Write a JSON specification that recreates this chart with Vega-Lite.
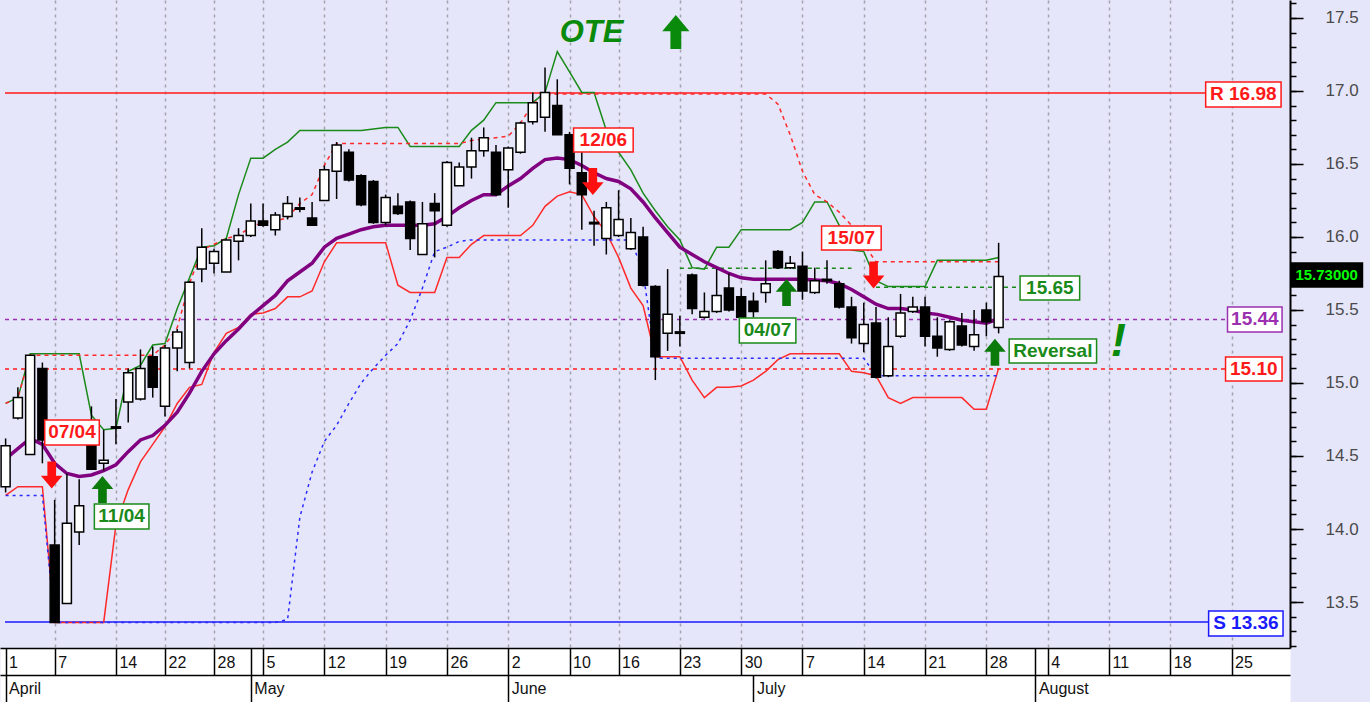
{
"$schema":"https://vega.github.io/schema/vega-lite/v6.json",
"width":1290,"height":648,
"autosize":"none",
"padding":{"left":0,"top":0,"right":80,"bottom":54},
"background":"#E6E6FA",
"config":{"view":{"stroke":null},"font":"Liberation Sans"},
"resolve":{"axis":{"x":"independent","y":"independent"}},
"datasets":{
"ohlc":[
{"i":0,"o":14.29,"h":14.62,"l":14.25,"c":14.57,"ma":14.48,"up":14.86,"lo":14.23,"tr":14.86,"bl":14.23},
{"i":1,"o":14.76,"h":14.97,"l":14.75,"c":14.90,"ma":14.55,"up":14.90,"lo":14.29,"tr":14.90,"bl":14.23},
{"i":2,"o":14.51,"h":15.19,"l":14.51,"c":15.19,"ma":14.62,"up":15.20,"lo":14.29,"tr":15.19,"bl":14.23},
{"i":3,"o":15.10,"h":15.14,"l":14.45,"c":14.61,"ma":14.58,"up":15.20,"lo":14.29,"tr":15.19,"bl":14.23},
{"i":4,"o":13.89,"h":14.20,"l":13.36,"c":13.36,"ma":14.45,"up":15.20,"lo":13.36,"tr":15.19,"bl":13.36},
{"i":5,"o":13.49,"h":14.38,"l":13.49,"c":14.04,"ma":14.38,"up":15.20,"lo":13.36,"tr":15.19,"bl":13.36},
{"i":6,"o":13.98,"h":14.34,"l":13.89,"c":14.16,"ma":14.36,"up":15.20,"lo":13.36,"tr":15.19,"bl":13.36},
{"i":7,"o":14.59,"h":14.84,"l":14.41,"c":14.41,"ma":14.37,"up":14.78,"lo":13.36,"tr":15.19,"bl":13.36},
{"i":8,"o":14.45,"h":14.68,"l":14.40,"c":14.47,"ma":14.40,"up":14.68,"lo":13.36,"tr":15.19,"bl":13.36},
{"i":9,"o":14.70,"h":14.89,"l":14.58,"c":14.69,"ma":14.44,"up":14.69,"lo":14.03,"tr":15.19,"bl":13.36},
{"i":10,"o":14.87,"h":15.10,"l":14.73,"c":15.07,"ma":14.53,"up":15.08,"lo":14.27,"tr":15.19,"bl":13.36},
{"i":11,"o":14.89,"h":15.23,"l":14.88,"c":15.10,"ma":14.61,"up":15.12,"lo":14.46,"tr":15.19,"bl":13.36},
{"i":12,"o":15.18,"h":15.25,"l":14.90,"c":14.97,"ma":14.64,"up":15.26,"lo":14.58,"tr":15.19,"bl":13.36},
{"i":13,"o":14.84,"h":15.26,"l":14.77,"c":15.24,"ma":14.71,"up":15.27,"lo":14.70,"tr":15.26,"bl":13.36},
{"i":14,"o":15.24,"h":15.37,"l":15.08,"c":15.35,"ma":14.80,"up":15.51,"lo":14.86,"tr":15.38,"bl":13.36},
{"i":15,"o":15.14,"h":15.70,"l":15.10,"c":15.69,"ma":14.93,"up":15.72,"lo":14.97,"tr":15.68,"bl":13.36},
{"i":16,"o":15.78,"h":16.06,"l":15.69,"c":15.93,"ma":15.08,"up":15.93,"lo":14.99,"tr":15.91,"bl":13.36},
{"i":17,"o":15.82,"h":15.92,"l":15.75,"c":15.90,"ma":15.20,"up":15.94,"lo":15.21,"tr":15.95,"bl":13.36},
{"i":18,"o":15.76,"h":15.99,"l":15.76,"c":15.98,"ma":15.29,"up":15.99,"lo":15.34,"tr":15.99,"bl":13.36},
{"i":19,"o":15.97,"h":16.06,"l":15.84,"c":16.01,"ma":15.37,"up":16.29,"lo":15.38,"tr":16.01,"bl":13.36},
{"i":20,"o":16.01,"h":16.23,"l":16.00,"c":16.11,"ma":15.46,"up":16.54,"lo":15.47,"tr":16.07,"bl":13.36},
{"i":21,"o":16.11,"h":16.23,"l":16.07,"c":16.08,"ma":15.53,"up":16.54,"lo":15.48,"tr":16.10,"bl":13.36},
{"i":22,"o":16.05,"h":16.17,"l":16.01,"c":16.15,"ma":15.60,"up":16.60,"lo":15.51,"tr":16.11,"bl":13.36},
{"i":23,"o":16.14,"h":16.28,"l":16.12,"c":16.23,"ma":15.70,"up":16.65,"lo":15.59,"tr":16.13,"bl":13.38},
{"i":24,"o":16.20,"h":16.27,"l":16.17,"c":16.19,"ma":15.76,"up":16.73,"lo":15.59,"tr":16.23,"bl":14.08},
{"i":25,"o":16.13,"h":16.24,"l":16.08,"c":16.08,"ma":15.82,"up":16.73,"lo":15.63,"tr":16.29,"bl":14.39},
{"i":26,"o":16.25,"h":16.49,"l":16.25,"c":16.46,"ma":15.93,"up":16.73,"lo":15.83,"tr":16.49,"bl":14.60},
{"i":27,"o":16.45,"h":16.65,"l":16.26,"c":16.63,"ma":15.99,"up":16.73,"lo":15.96,"tr":16.64,"bl":14.71},
{"i":28,"o":16.58,"h":16.60,"l":16.38,"c":16.39,"ma":16.02,"up":16.73,"lo":15.96,"tr":16.64,"bl":14.86},
{"i":29,"o":16.42,"h":16.43,"l":16.21,"c":16.22,"ma":16.05,"up":16.73,"lo":15.96,"tr":16.64,"bl":15.00},
{"i":30,"o":16.38,"h":16.39,"l":16.09,"c":16.10,"ma":16.07,"up":16.74,"lo":15.96,"tr":16.64,"bl":15.10},
{"i":31,"o":16.10,"h":16.29,"l":16.08,"c":16.27,"ma":16.08,"up":16.75,"lo":15.96,"tr":16.64,"bl":15.19},
{"i":32,"o":16.21,"h":16.30,"l":16.15,"c":16.16,"ma":16.08,"up":16.75,"lo":15.67,"tr":16.64,"bl":15.27},
{"i":33,"o":16.24,"h":16.25,"l":15.91,"c":15.99,"ma":16.08,"up":16.62,"lo":15.62,"tr":16.64,"bl":15.43},
{"i":34,"o":15.88,"h":16.24,"l":15.88,"c":16.09,"ma":16.08,"up":16.62,"lo":15.62,"tr":16.64,"bl":15.65},
{"i":35,"o":16.23,"h":16.30,"l":15.86,"c":16.18,"ma":16.09,"up":16.62,"lo":15.62,"tr":16.64,"bl":15.90},
{"i":36,"o":16.08,"h":16.52,"l":16.07,"c":16.51,"ma":16.14,"up":16.62,"lo":15.86,"tr":16.64,"bl":15.93},
{"i":37,"o":16.35,"h":16.51,"l":16.35,"c":16.48,"ma":16.20,"up":16.62,"lo":15.86,"tr":16.64,"bl":15.97},
{"i":38,"o":16.48,"h":16.68,"l":16.40,"c":16.59,"ma":16.25,"up":16.73,"lo":15.95,"tr":16.66,"bl":15.98},
{"i":39,"o":16.59,"h":16.75,"l":16.55,"c":16.68,"ma":16.29,"up":16.80,"lo":16.01,"tr":16.67,"bl":15.98},
{"i":40,"o":16.58,"h":16.63,"l":16.28,"c":16.29,"ma":16.29,"up":16.92,"lo":16.01,"tr":16.68,"bl":15.98},
{"i":41,"o":16.46,"h":16.62,"l":16.20,"c":16.61,"ma":16.35,"up":16.92,"lo":16.01,"tr":16.69,"bl":15.98},
{"i":42,"o":16.58,"h":16.79,"l":16.57,"c":16.78,"ma":16.40,"up":16.92,"lo":16.01,"tr":16.78,"bl":15.98},
{"i":43,"o":16.79,"h":16.99,"l":16.77,"c":16.92,"ma":16.47,"up":16.92,"lo":16.08,"tr":16.91,"bl":15.98},
{"i":44,"o":16.82,"h":17.16,"l":16.72,"c":16.99,"ma":16.53,"up":16.99,"lo":16.21,"tr":16.97,"bl":15.98},
{"i":45,"o":16.90,"h":17.08,"l":16.70,"c":16.70,"ma":16.54,"up":17.27,"lo":16.28,"tr":16.98,"bl":15.98},
{"i":46,"o":16.70,"h":16.72,"l":16.36,"c":16.47,"ma":16.53,"up":17.13,"lo":16.31,"tr":16.98,"bl":15.98},
{"i":47,"o":16.44,"h":16.58,"l":16.05,"c":16.29,"ma":16.49,"up":16.99,"lo":16.29,"tr":16.98,"bl":15.98},
{"i":48,"o":16.10,"h":16.18,"l":15.94,"c":16.09,"ma":16.44,"up":16.99,"lo":16.14,"tr":16.98,"bl":15.98},
{"i":49,"o":15.99,"h":16.24,"l":15.88,"c":16.20,"ma":16.40,"up":16.73,"lo":16.03,"tr":16.98,"bl":15.98},
{"i":50,"o":16.01,"h":16.32,"l":16.00,"c":16.12,"ma":16.38,"up":16.58,"lo":15.86,"tr":16.98,"bl":15.98},
{"i":51,"o":15.92,"h":16.13,"l":15.91,"c":16.03,"ma":16.33,"up":16.46,"lo":15.65,"tr":16.98,"bl":15.98},
{"i":52,"o":16.00,"h":16.07,"l":15.66,"c":15.67,"ma":16.24,"up":16.30,"lo":15.53,"tr":16.98,"bl":15.76},
{"i":53,"o":15.66,"h":15.67,"l":15.02,"c":15.18,"ma":16.13,"up":16.18,"lo":15.18,"tr":16.98,"bl":15.17},
{"i":54,"o":15.34,"h":15.78,"l":15.22,"c":15.47,"ma":16.03,"up":16.07,"lo":15.18,"tr":16.98,"bl":15.17},
{"i":55,"o":15.35,"h":15.46,"l":15.25,"c":15.34,"ma":15.93,"up":15.98,"lo":15.18,"tr":16.98,"bl":15.17},
{"i":56,"o":15.74,"h":15.75,"l":15.47,"c":15.51,"ma":15.88,"up":15.79,"lo":15.02,"tr":16.98,"bl":15.17},
{"i":57,"o":15.45,"h":15.62,"l":15.44,"c":15.49,"ma":15.83,"up":15.78,"lo":14.90,"tr":16.98,"bl":15.17},
{"i":58,"o":15.49,"h":15.78,"l":15.48,"c":15.60,"ma":15.79,"up":15.93,"lo":14.97,"tr":16.98,"bl":15.17},
{"i":59,"o":15.65,"h":15.75,"l":15.49,"c":15.50,"ma":15.75,"up":15.93,"lo":14.97,"tr":16.98,"bl":15.17},
{"i":60,"o":15.59,"h":15.65,"l":15.44,"c":15.45,"ma":15.72,"up":16.05,"lo":14.98,"tr":16.98,"bl":15.17},
{"i":61,"o":15.56,"h":15.62,"l":15.45,"c":15.49,"ma":15.71,"up":16.05,"lo":15.02,"tr":16.98,"bl":15.17},
{"i":62,"o":15.62,"h":15.84,"l":15.55,"c":15.68,"ma":15.71,"up":16.05,"lo":15.08,"tr":16.98,"bl":15.17},
{"i":63,"o":15.90,"h":15.91,"l":15.78,"c":15.79,"ma":15.71,"up":16.05,"lo":15.16,"tr":16.91,"bl":15.17},
{"i":64,"o":15.79,"h":15.87,"l":15.78,"c":15.82,"ma":15.71,"up":16.05,"lo":15.20,"tr":16.70,"bl":15.17},
{"i":65,"o":15.80,"h":15.90,"l":15.57,"c":15.63,"ma":15.71,"up":16.10,"lo":15.20,"tr":16.45,"bl":15.17},
{"i":66,"o":15.62,"h":15.79,"l":15.61,"c":15.70,"ma":15.705,"up":16.24,"lo":15.20,"tr":16.29,"bl":15.17},
{"i":67,"o":15.70,"h":15.84,"l":15.68,"c":15.71,"ma":15.70,"up":16.24,"lo":15.20,"tr":16.24,"bl":15.17},
{"i":68,"o":15.68,"h":15.70,"l":15.51,"c":15.52,"ma":15.68,"up":16.08,"lo":15.20,"tr":16.17,"bl":15.17},
{"i":69,"o":15.52,"h":15.59,"l":15.27,"c":15.31,"ma":15.64,"up":15.91,"lo":15.08,"tr":16.08,"bl":15.17},
{"i":70,"o":15.27,"h":15.55,"l":15.21,"c":15.40,"ma":15.59,"up":15.90,"lo":15.07,"tr":15.95,"bl":15.17},
{"i":71,"o":15.41,"h":15.52,"l":15.03,"c":15.04,"ma":15.54,"up":15.70,"lo":15.05,"tr":15.83,"bl":15.05},
{"i":72,"o":15.05,"h":15.45,"l":15.04,"c":15.25,"ma":15.51,"up":15.66,"lo":14.90,"tr":15.83,"bl":15.05},
{"i":73,"o":15.32,"h":15.61,"l":15.31,"c":15.48,"ma":15.51,"up":15.66,"lo":14.86,"tr":15.83,"bl":15.05},
{"i":74,"o":15.49,"h":15.59,"l":15.48,"c":15.52,"ma":15.50,"up":15.66,"lo":14.90,"tr":15.83,"bl":15.05},
{"i":75,"o":15.52,"h":15.59,"l":15.25,"c":15.32,"ma":15.48,"up":15.66,"lo":14.90,"tr":15.83,"bl":15.05},
{"i":76,"o":15.32,"h":15.45,"l":15.18,"c":15.24,"ma":15.47,"up":15.84,"lo":14.90,"tr":15.83,"bl":15.05},
{"i":77,"o":15.23,"h":15.43,"l":15.22,"c":15.42,"ma":15.45,"up":15.84,"lo":14.90,"tr":15.83,"bl":15.05},
{"i":78,"o":15.39,"h":15.48,"l":15.25,"c":15.26,"ma":15.43,"up":15.84,"lo":14.90,"tr":15.83,"bl":15.05},
{"i":79,"o":15.25,"h":15.50,"l":15.22,"c":15.33,"ma":15.42,"up":15.84,"lo":14.82,"tr":15.83,"bl":15.05},
{"i":80,"o":15.50,"h":15.55,"l":15.32,"c":15.42,"ma":15.41,"up":15.84,"lo":14.82,"tr":15.83,"bl":15.05},
{"i":81,"o":15.38,"h":15.96,"l":15.34,"c":15.73,"ma":15.44,"up":15.86,"lo":15.10,"tr":15.83,"bl":15.05}
],
"levels":[
{"name":"R","v":16.986,"from":-0.05,"to":97.89,"grp":"sell"},
{"name":"S","v":13.363,"from":-0.05,"to":98.13,"grp":"support"},
{"name":"pivot","v":15.435,"from":-0.05,"to":99.67,"grp":"pivot"},
{"name":"trigger","v":15.096,"from":-0.05,"to":99.51,"grp":"sell"},
{"name":"res1","v":15.785,"from":55,"to":69,"grp":"buy"},
{"name":"res2","v":15.655,"from":71,"to":82.75,"grp":"buy"}
],
"ann":[
{"text":"07/04","grp":"sell","x":5.41,"y":14.661,"x1":3.19,"x2":7.64,"y1":14.575,"y2":14.747},
{"text":"11/04","grp":"buy","x":9.46,"y":14.086,"x1":7.24,"x2":11.69,"y1":14.0,"y2":14.171},
{"text":"12/06","grp":"sell","x":48.76,"y":16.664,"x1":46.33,"x2":51.19,"y1":16.582,"y2":16.747},
{"text":"04/07","grp":"buy","x":62.15,"y":15.36,"x1":59.85,"x2":64.46,"y1":15.274,"y2":15.445},
{"text":"15/07","grp":"sell","x":68.99,"y":15.993,"x1":66.56,"x2":71.42,"y1":15.911,"y2":16.075},
{"text":"Reversal","grp":"buy","x":85.42,"y":15.219,"x1":81.86,"x2":88.99,"y1":15.137,"y2":15.301},
{"text":"15.65","grp":"buy","x":85.18,"y":15.651,"x1":82.75,"x2":87.61,"y1":15.568,"y2":15.733},
{"text":"R 16.98","grp":"sell","x":100.96,"y":16.976,"x1":97.89,"x2":104.04,"y1":16.89,"y2":17.062},
{"text":"15.44","grp":"pivot","x":101.9,"y":15.435,"x1":99.67,"x2":104.12,"y1":15.349,"y2":15.521},
{"text":"15.10","grp":"sell","x":101.81,"y":15.096,"x1":99.51,"x2":104.12,"y1":15.014,"y2":15.178},
{"text":"S 13.36","grp":"support","x":101.17,"y":13.353,"x1":98.13,"x2":104.2,"y1":13.267,"y2":13.438},
{"text":"15.73000","grp":"price","x":107.76,"y":15.74,"x1":104.85,"x2":110.68,"y1":15.658,"y2":15.822}
],
"arrows":[
{"x":3.76,"y":14.37,"dir":"down"},
{"x":47.9,"y":16.38,"dir":"down"},
{"x":70.8,"y":15.74,"dir":"down"},
{"x":7.9,"y":14.27,"dir":"up"},
{"x":63.7,"y":15.62,"dir":"up"},
{"x":80.7,"y":15.21,"dir":"up"}
]
},
"layer":[
{"data":{"name":"levels"},"transform":[{"filter":"datum.name=='R'||datum.name=='S'"}],
 "mark":{"type":"rule","strokeWidth":1.5},
 "encoding":{
  "x":{"field":"from","type":"quantitative","scale":{"domain":[-0.05,104.36],"nice":false,"zero":false},
   "axis":{"orient":"bottom","values":[4,9,13,17,21,26,31,36,41,46,50,55,60,65,70,75,80,85,90,95,100],"grid":true,"gridDash":[3,4],"gridColor":"#A2A2AC","gridWidth":1.5,"ticks":false,"labels":false,"domain":false,"title":null,"zindex":0}},
  "x2":{"field":"to"},
  "y":{"field":"v","type":"quantitative","scale":{"domain":[13.185,17.623],"nice":false,"zero":false},
   "axis":{"orient":"right","values":[13.5,14,14.5,15,15.5,16,16.5,17,17.5],"format":".1f","tickSize":13,"tickWidth":1.5,"tickColor":"#000","domainColor":"#000","domainWidth":2,"labelFont":"Liberation Sans","labelFontSize":17,"labelColor":"#4a4a4a","labelPadding":22,"grid":false,"title":null,"labelOverlap":false,"labelBound":false,"labelFlush":false,"zindex":1}},
  "color":{"field":"grp","type":"nominal","scale":{"domain":["sell","buy","pivot","support","price"],"range":["#FF1A1A","#1A8A1A","#9B30B0","#1A1AFF","#00FF00"]},"legend":null}
 }},
{"data":{"name":"levels"},"transform":[{"filter":"datum.name!='R'&&datum.name!='S'"}],
 "mark":{"type":"rule","strokeWidth":1.5,"strokeDash":[4,4]},
 "encoding":{
  "x":{"field":"from","type":"quantitative","scale":{"domain":[-0.05,104.36],"nice":false,"zero":false},
   "axis":{"orient":"bottom","values":[0,4,9,13,17,20,21,26,31,36,41,46,50,55,60,65,70,75,80,84,85,90,95,100],
    "labelExpr":"['1','7','14','22','28','','5','12','19','26','2','10','16','23','30','7','14','21','28','','4','11','18','25'][indexof([0,4,9,13,17,20,21,26,31,36,41,46,50,55,60,65,70,75,80,84,85,90,95,100], datum.value)]",
    "grid":false,"domain":true,"domainColor":"#000","domainWidth":1.5,"tickSize":27,"tickColor":"#000","tickWidth":1.5,"labelAlign":"left","labelBaseline":"top","labelOffset":3,"labelPadding":-21,"labelFont":"Liberation Sans","labelFontSize":16,"labelColor":"#111","labelOverlap":false,"labelBound":false,"labelFlush":false,"title":null,"zindex":3}},
  "x2":{"field":"to"},
  "y":{"field":"v","type":"quantitative","scale":{"domain":[13.185,17.623],"nice":false,"zero":false},
   "axis":{"orient":"right","values":[13.2,13.3,13.4,13.5,13.6,13.7,13.8,13.9,14.0,14.1,14.2,14.3,14.4,14.5,14.6,14.7,14.8,14.9,15.0,15.1,15.2,15.3,15.4,15.5,15.6,15.7,15.8,15.9,16.0,16.1,16.2,16.3,16.4,16.5,16.6,16.7,16.8,16.9,17.0,17.1,17.2,17.3,17.4,17.5,17.6],"labels":false,"domain":false,"tickSize":6,"tickWidth":1.5,"tickColor":"#000","grid":false,"title":null,"zindex":1}},
  "color":{"field":"grp","type":"nominal","scale":{"domain":["sell","buy","pivot","support","price"],"range":["#FF1A1A","#1A8A1A","#9B30B0","#1A1AFF","#00FF00"]},"legend":null}
 }},
{"data":{"name":"ohlc"},"mark":{"type":"line","stroke":"#FF2A2A","strokeWidth":1.5},
 "encoding":{
  "x":{"field":"i","type":"quantitative","scale":{"domain":[-0.05,104.36],"nice":false,"zero":false},
   "axis":{"orient":"bottom","offset":27,"values":[0,20,41,61,84],
    "labelExpr":"['April','May','June','July','August'][indexof([0,20,41,61,84], datum.value)]",
    "grid":false,"domain":true,"domainColor":"#000","domainWidth":1.5,"tickSize":27,"tickColor":"#000","tickWidth":1.5,"labelAlign":"left","labelBaseline":"top","labelOffset":3,"labelPadding":-22,"labelFont":"Liberation Sans","labelFontSize":16,"labelColor":"#111","labelOverlap":false,"labelBound":false,"labelFlush":false,"title":null,"zindex":2}},
  "y":{"field":"lo","type":"quantitative","scale":{"domain":[13.185,17.623],"nice":false,"zero":false},"axis":null}
 }},
{"data":{"name":"ohlc"},"mark":{"type":"line","stroke":"#1A8A1A","strokeWidth":1.5},
 "encoding":{
  "x":{"field":"i","type":"quantitative","scale":{"domain":[-0.05,104.36],"nice":false,"zero":false},
   "axis":{"orient":"bottom","offset":27,"values":[0],"grid":false,"domain":true,"domainColor":"#FFFFFF","domainWidth":54,"ticks":false,"labels":false,"title":null,"zindex":1}},
  "y":{"field":"up","type":"quantitative","scale":{"domain":[13.185,17.623],"nice":false,"zero":false},"axis":null}
 }},
{"data":{"name":"ohlc"},"mark":{"type":"line","stroke":"#FF2A2A","strokeWidth":1.5,"strokeDash":[4,4]},
 "encoding":{
  "x":{"field":"i","type":"quantitative","scale":{"domain":[-0.05,104.36],"nice":false,"zero":false},"axis":null},
  "y":{"field":"tr","type":"quantitative","scale":{"domain":[13.185,17.623],"nice":false,"zero":false},"axis":null}
 }},
{"data":{"name":"ohlc"},"mark":{"type":"line","stroke":"#2A2AFF","strokeWidth":1.5,"strokeDash":[3,4]},
 "encoding":{
  "x":{"field":"i","type":"quantitative","scale":{"domain":[-0.05,104.36],"nice":false,"zero":false},"axis":null},
  "y":{"field":"bl","type":"quantitative","scale":{"domain":[13.185,17.623],"nice":false,"zero":false},"axis":null}
 }},
{"data":{"name":"ohlc"},"mark":{"type":"line","stroke":"#800080","strokeWidth":3.5},
 "encoding":{
  "x":{"field":"i","type":"quantitative","scale":{"domain":[-0.05,104.36],"nice":false,"zero":false},"axis":null},
  "y":{"field":"ma","type":"quantitative","scale":{"domain":[13.185,17.623],"nice":false,"zero":false},"axis":null}
 }},
{"data":{"name":"ohlc"},"mark":{"type":"rule","stroke":"#000","strokeWidth":1.5},
 "encoding":{
  "x":{"field":"i","type":"quantitative","scale":{"domain":[-0.05,104.36],"nice":false,"zero":false},"axis":null},
  "y":{"field":"l","type":"quantitative","scale":{"domain":[13.185,17.623],"nice":false,"zero":false},"axis":null},
  "y2":{"field":"h"}
 }},
{"data":{"name":"ohlc"},"mark":{"type":"bar","width":9,"stroke":"#000","strokeWidth":1.5},
 "encoding":{
  "x":{"field":"i","type":"quantitative","scale":{"domain":[-0.05,104.36],"nice":false,"zero":false},"axis":null},
  "y":{"field":"o","type":"quantitative","scale":{"domain":[13.185,17.623],"nice":false,"zero":false},"axis":null},
  "y2":{"field":"c"},
  "fill":{"condition":{"test":"datum.c>=datum.o","value":"#FFFFFF"},"value":"#000000"}
 }},
{"data":{"name":"ann"},"mark":{"type":"rect","strokeWidth":1.5},
 "encoding":{
  "x":{"field":"x1","type":"quantitative","scale":{"domain":[-0.05,104.36],"nice":false,"zero":false},"axis":null},
  "x2":{"field":"x2"},
  "y":{"field":"y1","type":"quantitative","scale":{"domain":[13.185,17.623],"nice":false,"zero":false},"axis":null},
  "y2":{"field":"y2"},
  "fill":{"condition":{"test":"datum.grp=='price'","value":"#000000"},"value":"#FFFFFF"},
  "stroke":{"condition":{"test":"datum.grp=='price'","value":"#000000"},"field":"grp","type":"nominal","scale":{"domain":["sell","buy","pivot","support","price"],"range":["#FF1A1A","#1A8A1A","#9B30B0","#1A1AFF","#00FF00"]},"legend":null}
 }},
{"data":{"name":"ann"},"mark":{"type":"text","fontWeight":"bold","align":"center","baseline":"middle","font":"Liberation Sans"},
 "encoding":{
  "x":{"field":"x","type":"quantitative","scale":{"domain":[-0.05,104.36],"nice":false,"zero":false},"axis":null},
  "y":{"field":"y","type":"quantitative","scale":{"domain":[13.185,17.623],"nice":false,"zero":false},"axis":null},
  "text":{"field":"text"},
  "size":{"condition":{"test":"datum.grp=='price'","value":15},"value":19},
  "color":{"field":"grp","type":"nominal","scale":{"domain":["sell","buy","pivot","support","price"],"range":["#FF1A1A","#1A8A1A","#9B30B0","#1A1AFF","#00FF00"]},"legend":null}
 }},
{"data":{"name":"arrows"},"transform":[{"filter":"datum.dir=='down'"}],
 "mark":{"type":"point","filled":true,"opacity":1,"size":729,"color":"#FF1010","shape":"M-0.32,-1L0.32,-1L0.32,0.05L0.8,0.05L0,1L-0.8,0.05L-0.32,0.05Z"},
 "encoding":{
  "x":{"field":"x","type":"quantitative","scale":{"domain":[-0.05,104.36],"nice":false,"zero":false},"axis":null},
  "y":{"field":"y","type":"quantitative","scale":{"domain":[13.185,17.623],"nice":false,"zero":false},"axis":null}
 }},
{"data":{"name":"arrows"},"transform":[{"filter":"datum.dir=='up'"}],
 "mark":{"type":"point","filled":true,"opacity":1,"size":729,"color":"#0A7A0A","shape":"M-0.32,1L0.32,1L0.32,-0.05L0.8,-0.05L0,-1L-0.8,-0.05L-0.32,-0.05Z"},
 "encoding":{
  "x":{"field":"x","type":"quantitative","scale":{"domain":[-0.05,104.36],"nice":false,"zero":false},"axis":null},
  "y":{"field":"y","type":"quantitative","scale":{"domain":[13.185,17.623],"nice":false,"zero":false},"axis":null}
 }},
{"data":{"values":[{"x":54.67,"y":17.404}]},
 "mark":{"type":"point","filled":true,"opacity":1,"size":1156,"color":"#0A8A0A","shape":"M-0.32,1L0.32,1L0.32,-0.05L0.8,-0.05L0,-1L-0.8,-0.05L-0.32,-0.05Z"},
 "encoding":{
  "x":{"field":"x","type":"quantitative","scale":{"domain":[-0.05,104.36],"nice":false,"zero":false},"axis":null},
  "y":{"field":"y","type":"quantitative","scale":{"domain":[13.185,17.623],"nice":false,"zero":false},"axis":null}
 }},
{"data":{"values":[{"x":47.79,"y":17.397,"t":"OTE"},{"x":90.77,"y":15.28,"t":"!"}]},
 "mark":{"type":"text","fontWeight":"bold","fontStyle":"italic","align":"center","baseline":"middle","font":"Liberation Sans","color":"#0A8A0A"},
 "encoding":{
  "x":{"field":"x","type":"quantitative","scale":{"domain":[-0.05,104.36],"nice":false,"zero":false},"axis":null},
  "y":{"field":"y","type":"quantitative","scale":{"domain":[13.185,17.623],"nice":false,"zero":false},"axis":null},
  "text":{"field":"t"},
  "size":{"condition":{"test":"datum.t=='!'","value":46},"value":31}
 }}
]
}
